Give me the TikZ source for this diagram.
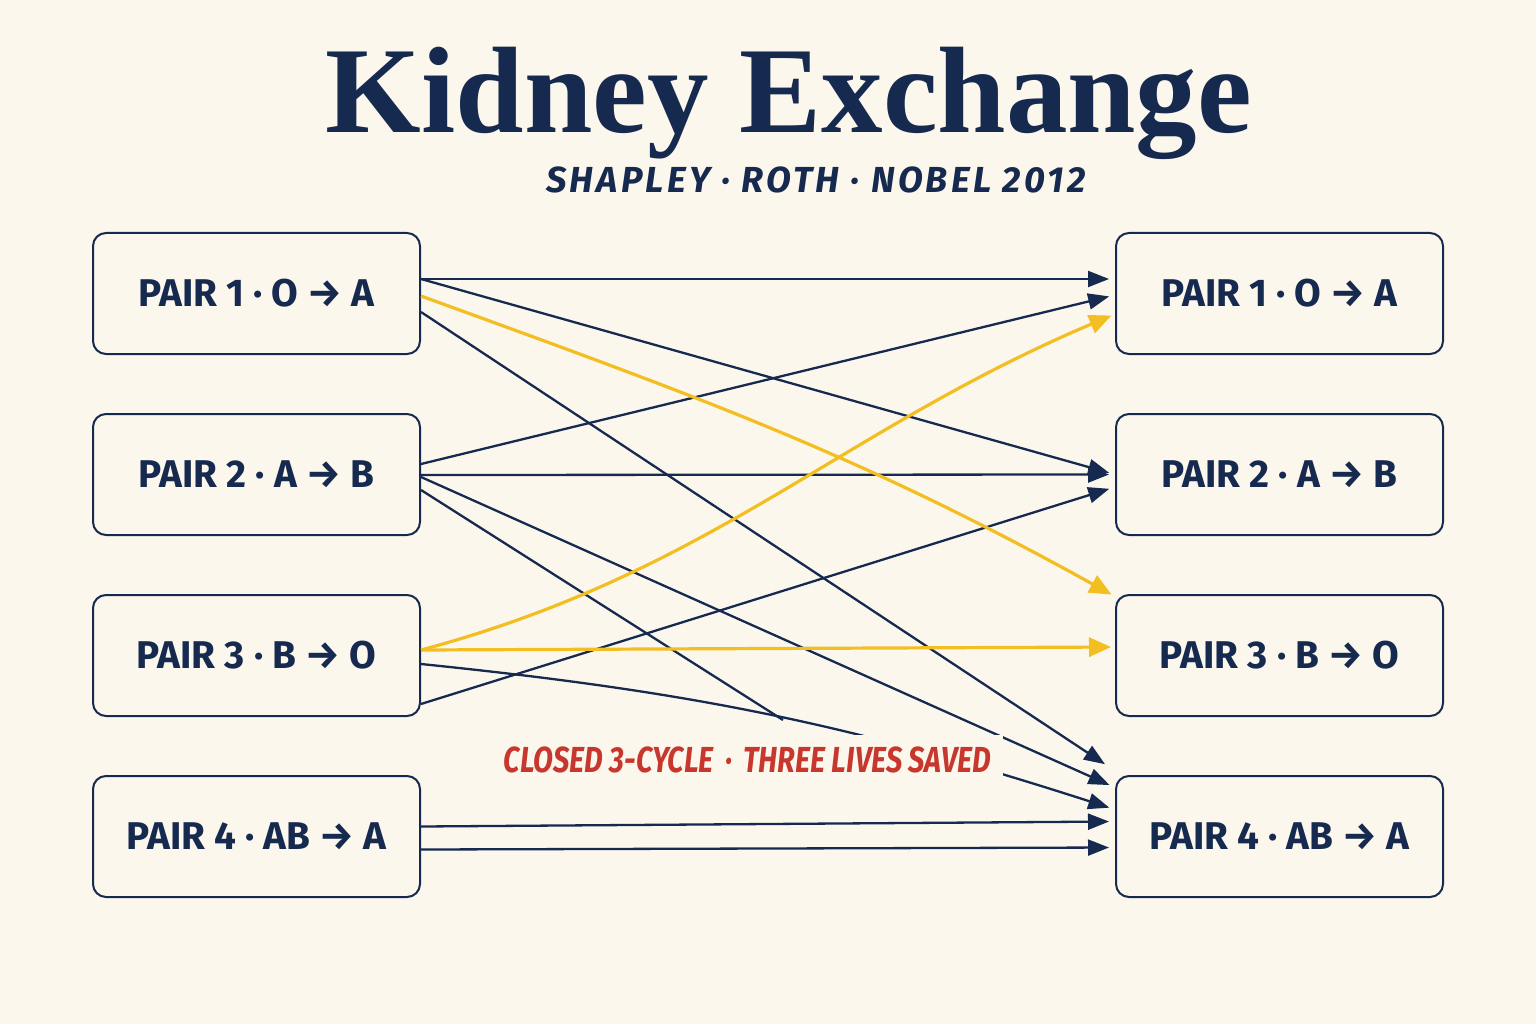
\documentclass[tikz,border=0pt]{standalone}
\usepackage{fontspec}
\setmainfont{Liberation Serif}
\newfontfamily\pairfont{Fira Sans}
\usepackage{tikz}
\usetikzlibrary{positioning, arrows.meta}

\definecolor{paper}{HTML}{FCF7EC}
\definecolor{navy}{HTML}{16294F}
\definecolor{gold}{HTML}{F2BE22}
\definecolor{brick}{HTML}{C8372D}

\begin{document}
\begin{tikzpicture}[node distance=0.58cm, >={Triangle[length=2.1mm, width=1.6mm]},
    pair/.style={draw=navy, line width=0.2mm, rounded corners=1.3mm, minimum width=3.27cm,
      minimum height=1.21cm, text=navy, font=\pairfont\bfseries\fontsize{11}{13}\selectfont},
    link/.style={->, navy, line width=0.23mm, shorten >=0.6mm},
    match/.style={-{Triangle[length=2.2mm, width=1.9mm]}, gold, line width=0.32mm, shorten >=0.4mm}]
                \useasboundingbox (0,0) rectangle (15.36,10.24);
                \fill[paper] (0,0) rectangle (15.36,10.24);

                \node[text=navy, anchor=base, font=\bfseries\fontsize{35}{40}\selectfont] (title) at (7.89,8.91) {Kidney Exchange};
                \node[text=navy, anchor=base, font=\pairfont\bfseries\itshape\fontsize{10.3}{12}\selectfont] (sub) at (8.16,8.31) {\addfontfeature{LetterSpace=9}SHAPLEY · ROTH · NOBEL 2012};

                \node[pair] (l1) at (2.565,7.305) {PAIR 1 · O → A};
                \node[pair] (l2) [below=of l1] {PAIR 2 · A → B};
                \node[pair] (l3) [below=of l2] {PAIR 3 · B → O};
                \node[pair] (l4) [below=of l3] {PAIR 4 · AB → A};
                \node[pair] (r1) [right=6.94cm of l1] {PAIR 1 · O → A};
                \node[pair] (r2) [right=6.94cm of l2] {PAIR 2 · A → B};
                \node[pair] (r3) [right=6.94cm of l3] {PAIR 3 · B → O};
                \node[pair] (r4) [right=6.94cm of l4] {PAIR 4 · AB → A};
                \coordinate (meet) at (7.83,3.04);

                \path[link]
                ([yshift=1.45mm]l1.east) edge ([yshift=1.45mm]r1.west)
                ([yshift=1.45mm]l1.east) edge (r2.west)
                ([yshift=-1.85mm]l1.east) edge ([xshift=-0.5mm, yshift=6.9mm]r4.west)
                ([yshift=1.05mm]l2.east) edge ([yshift=-0.15mm]r1.west)
                ([yshift=-0.05mm]l2.east) edge (r2.west)
                ([yshift=-0.25mm]l2.east) edge ([yshift=4.9mm]r4.west)
                ([yshift=-4.85mm]l3.east) edge ([yshift=-1.25mm]r2.west)
                ([yshift=-0.85mm]l3.east) edge[bend left=6] ([yshift=2.7mm]r4.west)
                ([yshift=1mm]l4.east) edge ([yshift=1.5mm]r4.west)
                ([yshift=-1.3mm]l4.east) edge ([yshift=-1.1mm]r4.west);
                \draw[navy, line width=0.23mm] ([yshift=-1.55mm]l2.east) -- (meet);

                \path[match]
                ([yshift=-0.25mm]l1.east) edge[out=-20, in=151] ([yshift=5.9mm]r3.west)
                ([yshift=0.55mm]l3.east) edge[out=15, in=203] ([yshift=-2.05mm]r1.west)
                ([yshift=0.55mm]l3.east) edge ([yshift=0.85mm]r3.west);

                \node[fill=paper, inner sep=1.2mm, text=brick, font=\pairfont\bfseries\itshape\fontsize{10.3}{12}\selectfont] (cycle) at (7.475,2.64) {\scalebox{0.8}[1]{CLOSED 3-CYCLE \,·\, THREE LIVES SAVED}};
\end{tikzpicture}
\end{document}
